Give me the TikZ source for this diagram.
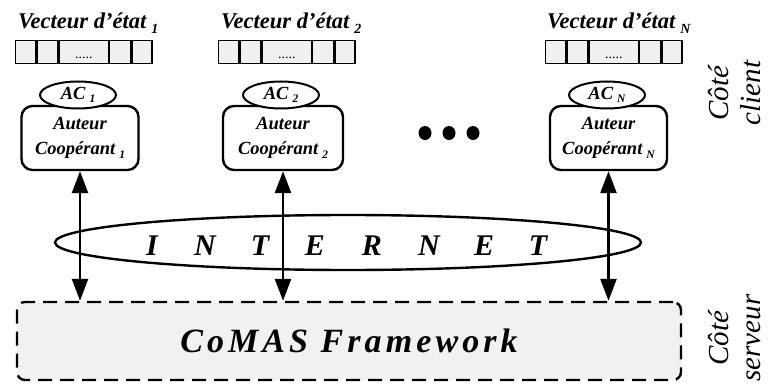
\documentclass[tikz,border=0pt]{standalone}
\usepackage{fontspec}
\setmainfont{Liberation Serif}
\usepackage{graphicx}
\usetikzlibrary{arrows.meta,shapes.geometric,positioning}
\newcommand\sbs[1]{\hspace{0.22em}\raisebox{-0.2em}{\scalebox{0.62}{#1}}}
\begin{document}
\begin{tikzpicture}[x=1pt,y=-1pt,
  lbl/.style={font=\fontsize{22.5}{24}\selectfont\bfseries\itshape, anchor=base west, inner sep=0pt},
  vcell/.style={draw, line width=1.3pt, fill=gray!12, minimum height=23pt, inner sep=0pt, anchor=north west},
  vdots/.style={anchor=base, inner sep=0pt, font=\fontsize{14}{14}\selectfont},
  auteur/.style={draw, line width=2.4pt, rounded corners=11pt, minimum width=117pt, minimum height=64pt, align=center, inner sep=0pt, font=\fontsize{18.5}{25}\selectfont\bfseries\itshape},
  acnode/.style={ellipse, draw, line width=2pt, fill=white, minimum width=76pt, minimum height=27pt, inner sep=0pt, font=\fontsize{18.5}{20}\selectfont\bfseries\itshape},
  inetbox/.style={ellipse, draw, line width=2.4pt, minimum width=586pt, minimum height=55pt, inner sep=0pt},
  inet/.style={font=\fontsize{30}{32}\selectfont\bfseries\itshape, anchor=base, inner sep=0pt},
  fwbox/.style={draw, dashed, dash pattern=on 14pt off 8pt, line width=2.4pt, rounded corners=8pt, fill=gray!11, minimum width=664pt, minimum height=78pt, inner sep=0pt, font=\fontsize{34}{36}\selectfont\bfseries\itshape\addfontfeature{LetterSpace=12}},
  link/.style={line width=2.6pt, {Triangle[length=22pt,width=16pt]}-{Triangle[length=22pt,width=16pt]}},
  side/.style={rotate=90, align=center, inner sep=0pt, font=\fontsize{29}{32}\selectfont\itshape},
  bigdot/.style={fill=black}
]
\useasboundingbox (0,0) rectangle (768,385);

% state vectors
\foreach \x/\n in {15/1, 218/2, 545/3}{
  \node[vcell, minimum width=20pt] (v\n a) at (\x,40) {};
  \node[vcell, minimum width=21pt] (v\n b) at (v\n a.north east) {};
  \node[vcell, minimum width=49pt] (v\n c) at (v\n b.north east) {};
  \node[vcell, minimum width=21pt] (v\n d) at (v\n c.north east) {};
  \node[vcell, minimum width=20pt] (v\n e) at (v\n d.north east) {};
  \node[vdots] (v\n dots) at ([yshift=6pt]v\n c.south) {.....};
}
\node[lbl] (l1) at (18,29) {Vecteur d'état\sbs{1}};
\node[lbl] (l2) at (221,29) {Vecteur d'état\sbs{2}};
\node[lbl] (l3) at (547,29) {Vecteur d'état\sbs{N}};

% cooperative authors
\node[auteur] (a1) at (80,138) {Auteur\\Coopérant\sbs{1}};
\node[auteur, minimum width=120pt] (a2) at (283,138) {Auteur\\Coopérant\sbs{2}};
\node[auteur] (a3) at (608.5,138) {Auteur\\Coopérant\sbs{N}};
\node[acnode] (ac1) at (78,95) {AC\sbs{1}};
\node[acnode] (ac2) at (281,95) {AC\sbs{2}};
\node[acnode] (ac3) at (607,95) {AC\sbs{N}};

% ellipsis dots
\fill[bigdot] (425,133) ellipse [x radius=6.5pt, y radius=7pt];
\fill[bigdot] (449,133) ellipse [x radius=6.5pt, y radius=7pt];
\fill[bigdot] (473,133) ellipse [x radius=6.5pt, y radius=7pt];

% internet
\node[inetbox] (net) at (348,242.5) {};
\foreach \x/\c [count=\i] in {152/I, 205/N, 260/T, 315/E, 372/R, 429/N, 484/E, 538/T}{
  \node[inet] (n\i) at (\x,255) {\c};
}

% framework
\node[fwbox] (fw) at (349,341) {CoMAS Framework};

% links
\draw[link] (a1.south) -- (a1.south |- fw.north);
\draw[link] (a2.south) -- (a2.south |- fw.north);
\draw[link] (a3.south) -- (a3.south |- fw.north);

% side labels
\node[side] (cc) at (734.5,93) {Côté\\client};
\node[side] (cs) at (734.5,338) {Côté\\serveur};
\end{tikzpicture}
\end{document}
